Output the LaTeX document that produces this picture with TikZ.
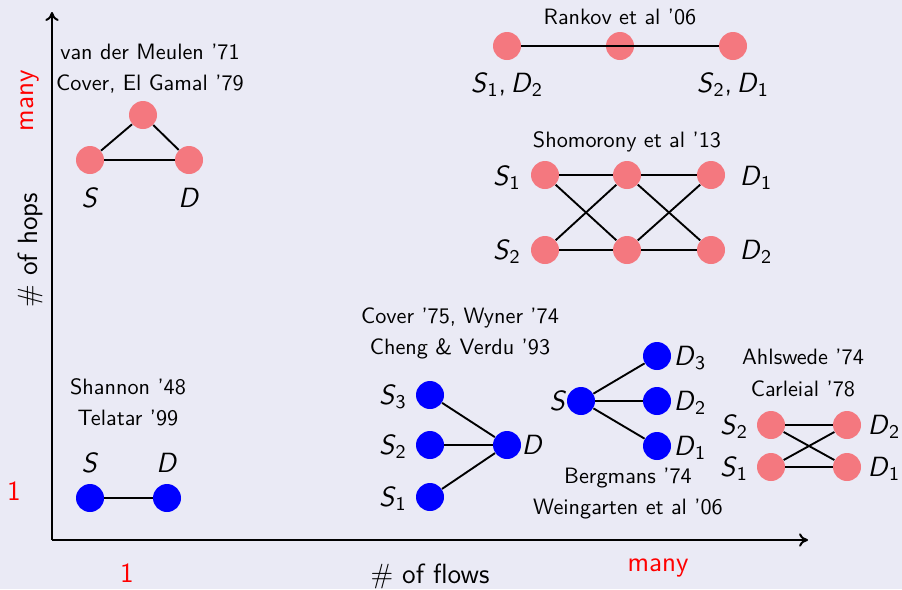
\documentclass[tikz,border=0pt]{standalone}
\usepackage{xcolor}
\usepackage{tikz}
\usetikzlibrary{arrows.meta,positioning}
\definecolor{slidebg}{HTML}{EAEAF5}
\definecolor{relaypink}{HTML}{F4787F}
\definecolor{flowblue}{HTML}{0000FF}
\newcommand{\nd}[2]{\textit{#1}\textsubscript{#2}}
\tikzset{
  pnode/.style={circle, fill=#1, inner sep=0pt, minimum size=12.6pt},
  pnode/.default=relaypink,
  bnode/.style={pnode=flowblue},
  link/.style={line width=0.85pt, black},
  axisline/.style={-{To[length=4pt,width=6pt]}, line width=0.9pt},
  cite/.style={font=\sffamily\normalsize, align=center, inner sep=1pt},
  term/.style={font=\sffamily\fontsize{12.5}{15}\selectfont, inner sep=1pt},
  axisnote/.style={term, text=red},
}

\begin{document}
\begin{tikzpicture}[x=0.45pt, y=-0.45pt]
  \useasboundingbox[fill=slidebg] (0,0) rectangle (902,589);

  % axes
  \coordinate (origin) at (52,540);
  \coordinate (ytop) at (52,12);
  \coordinate (xend) at (808,540);
  \draw[axisline] (origin) -- (ytop);
  \draw[axisline] (origin) -- (xend);
  \node[axisnote, rotate=90] (ymany) at (30,101) {many};
  \node[term, rotate=90] (yname) at (30,250) {\# of hops};
  \node[axisnote] (yone) at (14,491) {1};
  \node[axisnote] (xone) at (127,573) {1};
  \node[term] (xname) at (430,576) {\# of flows};
  \node[axisnote] (xmany) at (658,568) {many};

  % relay channel
  \node[cite] (relaycite) at (150,69) {van der Meulen '71\\[2pt]Cover, El Gamal '79};
  \node[pnode] (tri-r) at (143,115) {};
  \node[pnode] (tri-s) at (90,160) {};
  \node[pnode] (tri-d) at (189,160) {};
  \draw[link] (tri-s) -- (tri-r) -- (tri-d);
  \draw[link] (tri-s) -- (tri-d);
  \node[term] (tri-sl) at (90,198) {\textit{S}};
  \node[term] (tri-dl) at (189,198) {\textit{D}};

  % two-way relay
  \node[cite] (twcite) at (620,17) {Rankov et al '06};
  \node[pnode] (tw-a) at (507,46) {};
  \node[pnode] (tw-r) at (620,46) {};
  \node[pnode] (tw-b) at (733,46) {};
  \draw[link] (tw-a) -- (tw-b);
  \node[term] (tw-al) at (507,85) {\nd{S}{1},\,\nd{D}{2}};
  \node[term] (tw-bl) at (733,85) {\nd{S}{2},\,\nd{D}{1}};

  % two-hop interference
  \node[cite] (ifcite) at (627,142) {Shomorony et al '13};
  \node[pnode] (hop-s1) at (545,175) {};
  \node[pnode] (hop-r1) at (627,175) {};
  \node[pnode] (hop-d1) at (711,175) {};
  \node[pnode] (hop-s2) at (545,250) {};
  \node[pnode] (hop-r2) at (627,250) {};
  \node[pnode] (hop-d2) at (711,250) {};
  \draw[link] (hop-s1) -- (hop-r1) -- (hop-d1);
  \draw[link] (hop-s2) -- (hop-r2) -- (hop-d2);
  \draw[link] (hop-s1) -- (hop-r2) -- (hop-d1);
  \draw[link] (hop-s2) -- (hop-r1) -- (hop-d2);
  \node[term] (hop-s1l) at (507,178) {\nd{S}{1}};
  \node[term] (hop-s2l) at (507,252) {\nd{S}{2}};
  \node[term] (hop-d1l) at (756,178) {\nd{D}{1}};
  \node[term] (hop-d2l) at (756,252) {\nd{D}{2}};

  % point to point
  \node[cite] (p2pcite) at (128,402) {Shannon '48\\[2pt]Telatar '99};
  \node[bnode] (p2p-s) at (90,498) {};
  \node[bnode] (p2p-d) at (167,498) {};
  \draw[link] (p2p-s) -- (p2p-d);
  \node[term] (p2p-sl) at (90,463) {\textit{S}};
  \node[term] (p2p-dl) at (167,463) {\textit{D}};

  % multiple access
  \node[cite] (maccite) at (460,333) {Cover '75, Wyner '74\\[2pt]Cheng \& Verdu '93};
  \node[bnode] (mac-s3) at (430,395) {};
  \node[bnode] (mac-s2) at (430,445) {};
  \node[bnode] (mac-s1) at (430,497) {};
  \node[bnode] (mac-d) at (507,445) {};
  \draw[link] (mac-s3) -- (mac-d);
  \draw[link] (mac-s2) -- (mac-d);
  \draw[link] (mac-s1) -- (mac-d);
  \node[term] (mac-s3l) at (393,397) {\nd{S}{3}};
  \node[term] (mac-s2l) at (393,447) {\nd{S}{2}};
  \node[term] (mac-s1l) at (393,499) {\nd{S}{1}};
  \node[term, right=-1pt of mac-d] (mac-dl) {\textit{D}};

  % broadcast
  \node[bnode] (bc-s) at (581,401) {};
  \node[bnode] (bc-d3) at (657,356) {};
  \node[bnode] (bc-d2) at (657,401) {};
  \node[bnode] (bc-d1) at (657,446) {};
  \draw[link] (bc-s) -- (bc-d3);
  \draw[link] (bc-s) -- (bc-d2);
  \draw[link] (bc-s) -- (bc-d1);
  \node[term, left=-1pt of bc-s] (bc-sl) {\textit{S}};
  \node[term] (bc-d3l) at (690,358) {\nd{D}{3}};
  \node[term] (bc-d2l) at (690,403) {\nd{D}{2}};
  \node[term] (bc-d1l) at (690,448) {\nd{D}{1}};
  \node[cite] (bccite) at (628,494) {Bergmans '74\\[2pt]Weingarten et al '06};

  % interference channel
  \node[cite] (iccite) at (803,373) {Ahlswede '74\\[2pt]Carleial '78};
  \node[pnode] (ic-s2) at (771,425) {};
  \node[pnode] (ic-s1) at (771,467) {};
  \node[pnode] (ic-d2) at (847,425) {};
  \node[pnode] (ic-d1) at (847,467) {};
  \draw[link] (ic-s2) -- (ic-d2);
  \draw[link] (ic-s1) -- (ic-d1);
  \draw[link] (ic-s2) -- (ic-d1);
  \draw[link] (ic-s1) -- (ic-d2);
  \node[term] (ic-s2l) at (734,427) {\nd{S}{2}};
  \node[term] (ic-s1l) at (734,469) {\nd{S}{1}};
  \node[term] (ic-d2l) at (884,427) {\nd{D}{2}};
  \node[term] (ic-d1l) at (884,469) {\nd{D}{1}};
\end{tikzpicture}
\end{document}
